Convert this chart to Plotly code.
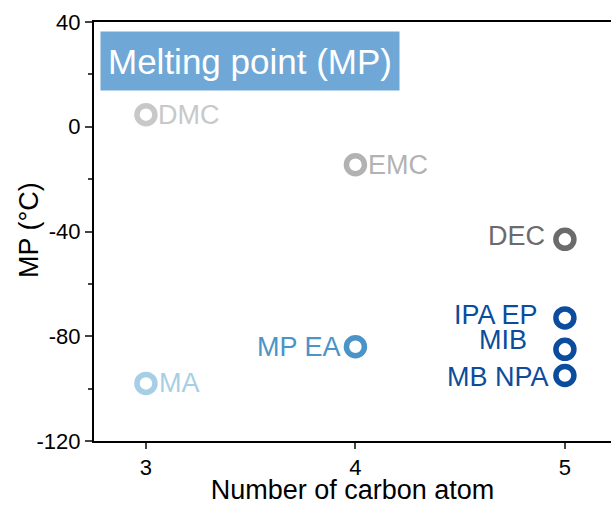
import plotly.graph_objects as go

names = ["DMC", "EMC", "DEC", "MA", "MP EA", "IPA EP", "MIB", "MB NPA"]
carbons = [3, 4, 5, 3, 4, 5, 5, 5]
mp = [4.6, -14.5, -43, -98, -84, -73, -85, -95]
colors = ["#c8c8c8", "#b2b2b2", "#6b6b6b", "#a6cfe6", "#4a94c8", "#0b4c9c", "#0b4c9c", "#0b4c9c"]

# label placement (style): anchor side and pixel offsets from marker centre
label_anchor = ["left", "left", "right", "left", "right", "right", "right", "right"]
label_dx = [10, 11, -18, 11, -12, -25, -36, -14]
label_dy = [0, 0, 3, 0, 0, 3, 9, -1]

x_ticks = [3, 4, 5]
y_ticks = [-120, -80, -40, 0, 40]
y_ticktext = ["-120", "-80", "-40", "0", "40"]
y_minor = [-100, -60, -20, 20]

FONT = "Liberation Sans, Arial"

fig = go.Figure()
fig.add_trace(go.Scatter(
    x=carbons, y=mp, mode="markers",
    marker=dict(symbol="circle-open", size=18, color=colors, line=dict(width=5.5, color=colors)),
    cliponaxis=False, showlegend=False, hoverinfo="skip",
))

for nm, xv, yv, c, anc, dx, dy in zip(names, carbons, mp, colors, label_anchor, label_dx, label_dy):
    fig.add_annotation(
        x=xv, y=yv, xref="x", yref="y", text=nm, showarrow=False,
        xanchor=anc, yanchor="middle", xshift=dx, yshift=dy,
        font=dict(family=FONT, size=27, color=c),
    )

fig.add_annotation(
    xref="paper", yref="paper", x=0.0116, y=0.9785, xanchor="left", yanchor="top",
    text="Melting point (MP)", showarrow=False,
    font=dict(family=FONT, size=35, color="white"),
    bgcolor="#6fa8d6", borderpad=4, width=290, height=50,
)

fig.add_annotation(
    xref="paper", yref="paper", x=-0.1257, y=0.5036, xanchor="center", yanchor="middle",
    text="MP (°C)", textangle=-90, showarrow=False,
    font=dict(family=FONT, size=27, color="black"),
)

fig.update_layout(
    width=611, height=505,
    margin=dict(l=94, r=0, t=22, b=64),
    plot_bgcolor="white", paper_bgcolor="white",
    font=dict(family=FONT, size=22, color="black"),
    xaxis=dict(
        range=[2.752, 5.22], tickvals=x_ticks, ticks="outside", ticklen=6, tickwidth=1.5,
        showgrid=False, showline=True, linecolor="black", linewidth=2, mirror=True,
        title=dict(text="Number of carbon atom", font=dict(size=27), standoff=3),
        zeroline=False, tickfont=dict(size=22),
    ),
    yaxis=dict(
        range=[-120, 40], tickvals=y_ticks, ticktext=y_ticktext, ticks="outside",
        ticklen=7, tickwidth=1.5, showgrid=False, showline=True,
        linecolor="black", linewidth=2, zeroline=False,
        minor=dict(ticks="outside", ticklen=4, tickvals=y_minor, tickwidth=1.5),
        tickfont=dict(size=22),
    ),
)

fig.write_html("out.html", config={"displayModeBar": False},
               post_script="document.body.style.margin='0';")
